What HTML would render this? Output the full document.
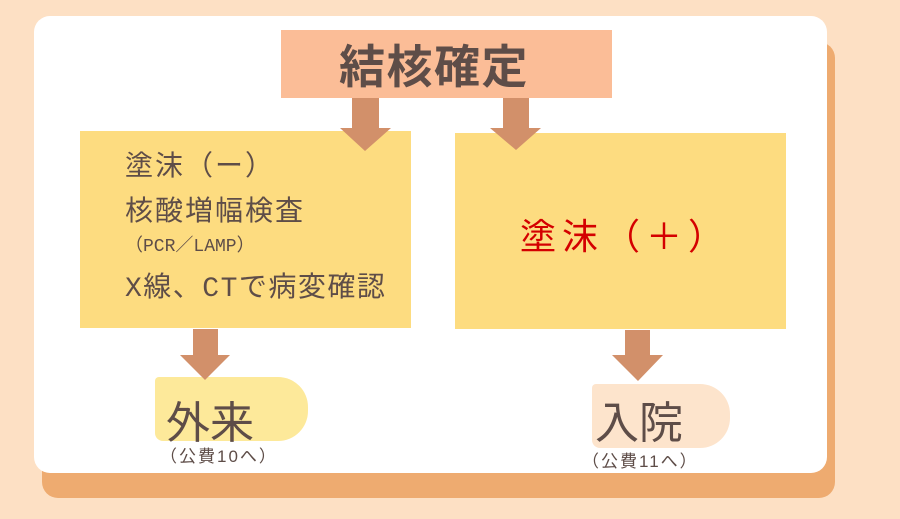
<!DOCTYPE html>
<html><head><meta charset="utf-8"><style>
body{margin:0;width:900px;height:519px;background:#fde0c4;position:relative;overflow:hidden;font-family:"Liberation Sans","Noto Sans CJK JP",sans-serif;color:#5e4d48}
div{position:absolute}
.t{white-space:nowrap;line-height:1}
.m{font-family:"Liberation Mono","Noto Sans CJK JP",monospace;letter-spacing:2px}
</style></head><body>
<div style="left:42px;top:42px;width:793px;height:456px;background:#eeab70;border-radius:16px"></div>
<div style="left:34px;top:16px;width:793px;height:457px;background:#fff;border-radius:16px"></div>
<div style="left:281px;top:30px;width:331px;height:68px;background:#fbbd97"></div>
<div class="t" style="left:339px;top:44px;font-size:46px;font-weight:bold;letter-spacing:1.5px">結核確定</div>
<div style="left:80px;top:131px;width:331px;height:197px;background:#fddc80"></div>
<div style="left:455px;top:133px;width:331px;height:196px;background:#fddc80"></div>
<div style="left:155px;top:377px;width:153px;height:64px;background:#fde99a;border-radius:4px 30px 30px 8px"></div>
<div style="left:592px;top:384px;width:138px;height:64px;background:#fde4cc;border-radius:4px 30px 30px 8px"></div>
<svg width="900" height="519" style="position:absolute;left:0;top:0">
<g fill="#d2906a">
<polygon points="352,98 379,98 379,128 391,128 365,151 340,128 352,128"/>
<polygon points="503,98 529,98 529,128 541,128 516,150 490,128 503,128"/>
<polygon points="193,329 218,329 218,355 230,355 205,380 180,355 193,355"/>
<polygon points="625,330 650,330 650,355 663,355 638,381 612,355 625,355"/>
</g></svg>
<div class="t m" style="left:125px;top:155px;font-size:28px">塗沫（ー）</div>
<div class="t m" style="left:125px;top:200px;font-size:28px">核酸増幅検査</div>
<div class="t m" style="left:125px;top:238px;font-size:18px;letter-spacing:0">（PCR／LAMP）</div>
<div class="t m" style="left:125px;top:276px;font-size:28px;letter-spacing:1.5px">X線、CTで病変確認</div>
<div class="t" style="left:520px;top:219px;font-size:36px;letter-spacing:6px;color:#d40000">塗沫（＋）</div>
<div class="t" style="left:166px;top:402px;font-size:44px">外来</div>
<div class="t" style="left:160px;top:448px;font-size:17px;letter-spacing:2px">（公費10へ）</div>
<div class="t" style="left:595px;top:402px;font-size:44px">入院</div>
<div class="t" style="left:582px;top:453px;font-size:17px;letter-spacing:2px">（公費11へ）</div>
</body></html>
